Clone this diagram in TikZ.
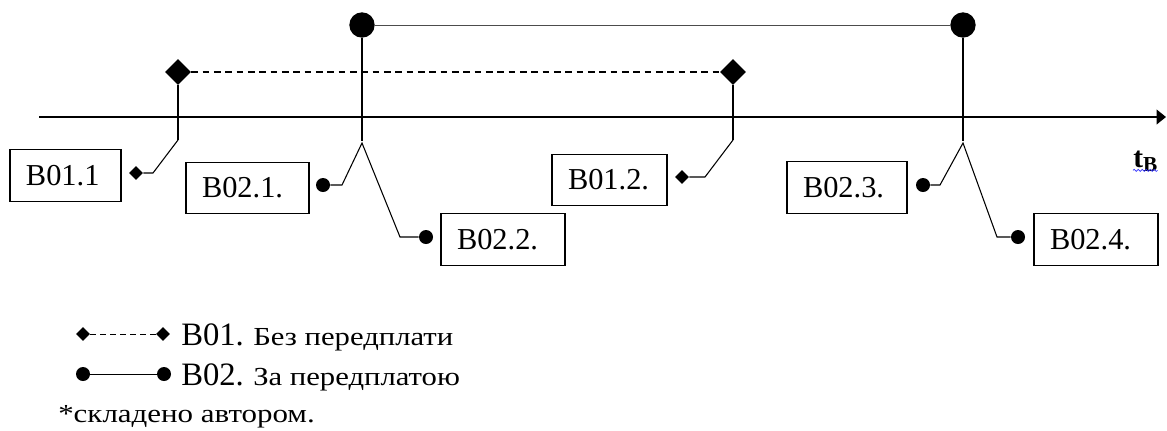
\documentclass[tikz,border=0pt]{standalone}
\usepackage{fontspec}
\setmainfont{Liberation Serif}
\newfontfamily\legendfont[FakeStretch=1.18]{Liberation Serif}
\newfontfamily\notefont[FakeStretch=1.19]{Liberation Serif}
\usetikzlibrary{shapes.geometric,arrows.meta,decorations.pathmorphing}

\tikzset{
  lblbox/.style={draw, line width=0.8pt, inner xsep=12pt, inner ysep=0pt,
    minimum height=38.5pt, align=left,
    font=\fontsize{22.8pt}{25pt}\selectfont},
  bigdia/.style={diamond, fill=black, inner sep=0pt, minimum size=19.5pt},
  smalldia/.style={diamond, fill=black, inner sep=0pt, minimum size=10.5pt},
  bigball/.style={circle, fill=black, inner sep=0pt, minimum size=19pt},
  smalldot/.style={circle, fill=black, inner sep=0pt, minimum size=10.5pt},
  stem/.style={line width=1pt},
  branch/.style={line width=0.8pt},
  link/.style={line width=0.7pt, black!70},
  dlink/.style={line width=0.9pt, dash pattern=on 5pt off 3.5pt},
  axis/.style={line width=1.1pt, -{Triangle[length=7pt,width=11pt]}},
  bigtxt/.style={anchor=base west, inner sep=0pt, font=\fontsize{24.5pt}{27pt}\selectfont},
  cyrtxt/.style={anchor=base west, inner sep=0pt, font=\legendfont\fontsize{19.5pt}{22pt}\selectfont},
  notetxt/.style={anchor=base west, inner sep=0pt, font=\notefont\fontsize{19.5pt}{22pt}\selectfont},
  spell/.style={draw=blue!80, line width=0.5pt,
    decorate, decoration={snake, amplitude=0.8pt, segment length=3pt}},
}

\begin{document}
\begin{tikzpicture}[x=0.75pt, y=-0.75pt]
\path[use as bounding box] (0,0) rectangle (1167,430);

% time axis
\coordinate (ax0) at (39,117);
\coordinate (ax1) at (1166,117);
\draw[axis] (ax0) -- (ax1);
\node[anchor=base west, inner sep=0pt, font=\fontsize{22pt}{24pt}\selectfont\bfseries] (tb)
  at (1133,167) {t\raisebox{-3.5pt}{\fontsize{16pt}{18pt}\selectfont B}};
\draw[spell] ([yshift=-2.5pt]tb.base west) -- ([yshift=-2.5pt]tb.base east);

% labelled boxes
\node[lblbox, text width=59.25pt] (b011) at (65.5,175.5) {B01.1};
\node[lblbox, text width=68.25pt] (b021) at (247.5,188) {B02.1.};
\node[lblbox, text width=69pt]    (b022) at (503,239.5) {B02.2.};
\node[lblbox, text width=62.25pt] (b012) at (609.5,180) {B01.2.};
\node[lblbox, text width=66pt]    (b023) at (847,187.5) {B02.3.};
\node[lblbox, text width=69pt]    (b024) at (1096,239.5) {B02.4.};

% B01: payment without prepayment
\node[bigdia]   (d1) at (178,72) {};
\node[bigdia]   (d2) at (733,72) {};
\node[smalldia] (s1) at (136,173) {};
\node[smalldia] (s2) at (682,177) {};
\draw[dlink] (d1) -- (d2);
\draw[stem] (d1) -- (178,140);
\draw[branch] (178,140) -- (153,173) -- (s1);
\draw[stem] (d2) -- (733,140);
\draw[branch] (733,140) -- (705,177) -- (s2);

% B02: payment with prepayment
\node[bigball]  (p1) at (362,25) {};
\node[bigball]  (p2) at (963,25) {};
\node[smalldot] (o1) at (323,185) {};
\node[smalldot] (o2) at (426,237) {};
\node[smalldot] (o3) at (923,185) {};
\node[smalldot] (o4) at (1018,237) {};
\draw[link] (p1) -- (p2);
\draw[stem] (p1) -- (362,141);
\draw[branch] (o1) -- (342,185) -- (362,143) -- (400,237) -- (o2);
\draw[stem] (p2) -- (963,141);
\draw[branch] (o3) -- (940,185) -- (963,143) -- (997,237) -- (o4);

% legend
\node[smalldia] (l1a) at (83,334) {};
\node[smalldia] (l1b) at (163,334) {};
\draw[line width=0.7pt, dash pattern=on 4.5pt off 3pt] (l1a) -- (l1b);
\node[bigtxt] (l1t) at (181,345) {B01.};
\node[cyrtxt] (l1c) at (253,345) {Без передплати};

\node[smalldot] (l2a) at (83,374) {};
\node[smalldot] (l2b) at (164,374) {};
\draw[line width=0.7pt] (l2a) -- (l2b);
\node[bigtxt] (l2t) at (181,385) {B02.};
\node[cyrtxt] (l2c) at (253,385) {За передплатою};

\node[notetxt] (src) at (58,422) {*складено автором.};
\end{tikzpicture}
\end{document}
